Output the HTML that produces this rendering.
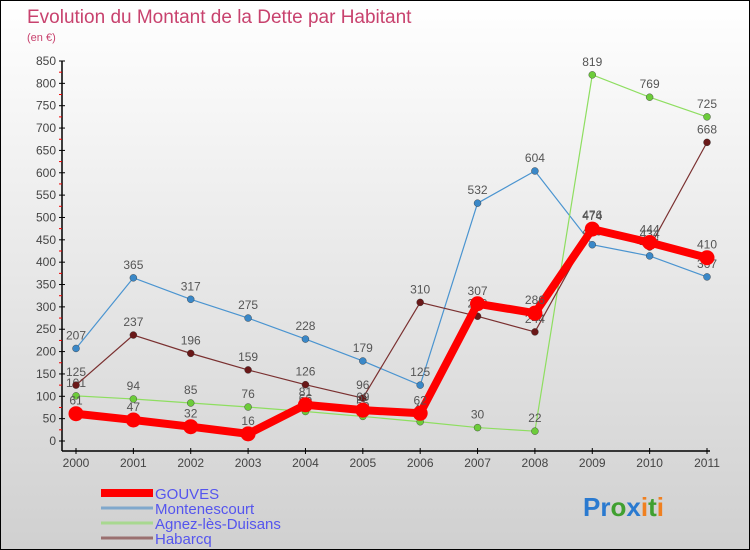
<!DOCTYPE html>
<html><head><meta charset="utf-8"><style>
body{margin:0}
#wrap{width:750px;height:550px;position:relative;overflow:hidden;box-sizing:border-box;border:1px solid #000;background:linear-gradient(#ffffff,#d0d0d0);font-family:"Liberation Sans",sans-serif}
svg{position:absolute;left:0;top:0}
</style></head><body>
<div id="wrap">
<svg id="c" width="750" height="550">
<text x="26" y="22" font-size="19" fill="#c8426e">Evolution du Montant de la Dette par Habitant</text>
<text x="26" y="40" font-size="11" fill="#c8426e">(en €)</text>
</svg>
</div>
<script>
const years=[2000,2001,2002,2003,2004,2005,2006,2007,2008,2009,2010,2011];
const gouves=[61,47,32,16,81,69,62,307,286,474,444,410];
const montenescourt=[207,365,317,275,228,179,125,532,604,439,414,367];
const agnez=[101,94,85,76,66,55,43,30,22,819,769,725];
const habarcq=[125,237,196,159,126,96,310,279,244,476,434,668];
const yTicks=[0,50,100,150,200,250,300,350,400,450,500,550,600,650,700,750,800,850];
const names=["GOUVES","Montenescourt","Agnez-lès-Duisans","Habarcq"];
const svg=document.getElementById('c');const NS='http://www.w3.org/2000/svg';
function X(i){return 75+i*(706-75)/11;}
function Y(v){return 440-v*380/850;}
function mk(t,a,p){const e=document.createElementNS(NS,t);for(const k in a)e.setAttribute(k,a[k]);(p||svg).appendChild(e);return e;}
const ax=mk('g',{});


mk('line',{x1:61,y1:Y(850),x2:61,y2:450,stroke:'#000','stroke-width':1.5},ax);
mk('line',{x1:61,y1:450,x2:X(11)+3,y2:450,stroke:'#000','stroke-width':1.5},ax);
yTicks.forEach(v=>{mk('line',{x1:58,y1:Y(v),x2:64,y2:Y(v),stroke:'#000'},ax);
 if(v<850)mk('line',{x1:58,y1:Y(v+25),x2:61,y2:Y(v+25),stroke:'#e00'},ax);
 const t=mk('text',{x:55,y:Y(v)+4,'text-anchor':'end','font-size':12,fill:'#444'},ax);t.textContent=v;
 });
years.forEach((y,i)=>{mk('line',{x1:X(i),y1:447,x2:X(i),y2:453,stroke:'#000'},ax);
 const t=mk('text',{x:X(i),y:466,'text-anchor':'middle','font-size':12,fill:'#444'},ax);t.textContent=y;
 });
const series=[[montenescourt,'#4a94d0','#3a88c8',1.2,3.5],[agnez,'#8ede60','#6ccc3a',1.2,3.5],[habarcq,'#7a3030','#6a1818',1.2,3.5],[gouves,'#ff0000','#ff0000',8,7.5]];
series.forEach((s,k)=>{const g=mk('g',{});
 
 
 const d=s[0].map((v,i)=>(i?'L':'M')+X(i)+','+Y(v)).join(' ');
 mk('path',{d:d,fill:'none',stroke:s[1],'stroke-width':s[3]},g);
 s[0].forEach((v,i)=>{const c=mk('circle',{cx:X(i),cy:Y(v),r:s[4],fill:s[2],stroke:'#333','stroke-width':k==3?0:0.4},g);
  
  const t=mk('text',{x:X(i),y:Y(v)-9,'text-anchor':'middle','font-size':12,fill:'#555'},g);t.textContent=v;});
});
const lg=mk('g',{});


const lc=['#ff0000','#80a8cc','#a8d890','#9a7070'],lw=[8,3,3,3];
names.forEach((n,i)=>{const y=492+i*15;
 const e=mk('g',{},lg);
 mk('line',{x1:100,y1:y,x2:152,y2:y,stroke:lc[i],'stroke-width':lw[i]},e);
 const t=mk('text',{x:154,y:y+6,'font-size':15,fill:'#5555ee'},e);t.textContent=n;});
const lo=mk('text',{x:582,y:515,'font-size':26,'font-weight':'bold'});

[['P','#2a7ad0'],['r','#2a7ad0'],['o','#40a030'],['x','#2a7ad0'],['i','#f08020'],['t','#40a030'],['i','#f08020']].forEach(([c,f])=>{const s=mk('tspan',{fill:f},lo);s.textContent=c;});
</script>
</body></html>
